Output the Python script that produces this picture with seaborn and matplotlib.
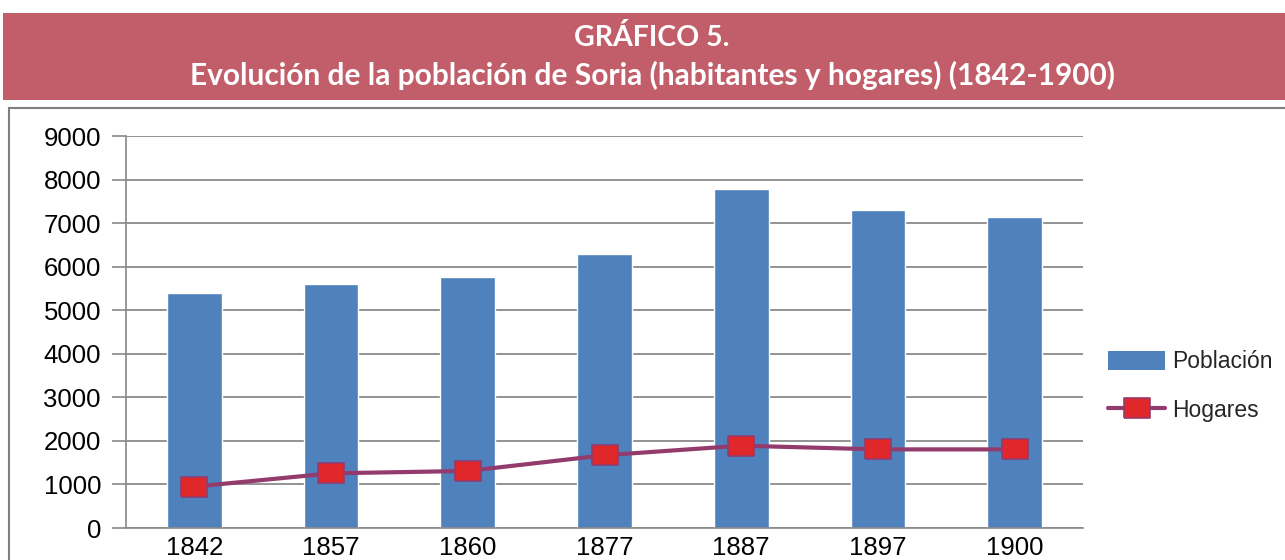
import matplotlib
matplotlib.use("Agg")
import matplotlib.pyplot as plt
import seaborn as sns
import pandas as pd
import numpy as np
from matplotlib.patches import Rectangle
from matplotlib.lines import Line2D
from matplotlib.patches import Patch

years = ["1842", "1857", "1860", "1877", "1887", "1897", "1900"]
poblacion = [5400, 5600, 5760, 6290, 7780, 7300, 7140]
hogares = [950, 1255, 1310, 1670, 1890, 1805, 1805]
yticks = [0, 1000, 2000, 3000, 4000, 5000, 6000, 7000, 8000, 9000]
title_line1 = "GRÁFICO 5."
title_line2 = "Evolución de la población de Soria (habitantes y hogares) (1842-1900)"

sns.set_theme(style="white")
plt.rcParams['font.family'] = ['Liberation Sans', 'DejaVu Sans']

df = pd.DataFrame({"year": years, "Población": poblacion, "Hogares": hogares})

W, H = 1285, 560
fig = plt.figure(figsize=(W / 100, H / 100), dpi=100)

# title band
fig.patches.append(Rectangle((3 / W, 1 - 100 / H), (W - 3) / W, 87 / H,
                             transform=fig.transFigure, facecolor="#C25E6A",
                             edgecolor="none", zorder=0))
# chart border
fig.patches.append(Rectangle((9 / W, -0.1), 1.2, (1 - 108 / H) + 0.1,
                             transform=fig.transFigure, facecolor="none",
                             edgecolor="#7f7f7f", linewidth=1.5, zorder=0))

fig.text(652 / W, 1 - 38 / H, title_line1, ha="center", va="center",
         color="white", fontsize=20.5, fontweight="bold", family=["Lato", "DejaVu Sans"])
fig.text(652 / W, 1 - 75 / H, title_line2, ha="center", va="center",
         color="white", fontsize=21.5, fontweight="bold", family=["Lato", "DejaVu Sans"])

ax = fig.add_axes([126 / W, 1 - 528 / H, (1083 - 126) / W, (528 - 136) / H])

sns.barplot(data=df, x="year", y="Población", color="#4F81BD", width=0.40,
            saturation=1, ax=ax, zorder=2)
marker = [(-1.35, -1), (1.35, -1), (1.35, 1), (-1.35, 1), (-1.35, -1)]
x = np.arange(len(years))
sns.lineplot(x=x, y=hogares, ax=ax, color="#943B6E", linewidth=3,
             marker=marker, markersize=19, markerfacecolor="#E0282A",
             markeredgecolor="#943B6E", markeredgewidth=1.2, zorder=3)

ax.set_xlim(-0.5, len(years) - 0.5)
ax.set_ylim(0, 9000)
ax.set_yticks(yticks)
ax.set_yticklabels([str(v) for v in yticks], fontsize=18.5)
ax.set_xticks(x)
ax.set_xticklabels(years, fontsize=18.5)
ax.set_xticks(np.arange(-0.5, len(years)), minor=True)
ax.tick_params(axis="x", which="major", length=0, pad=6, colors="#000000")
ax.tick_params(axis="x", which="minor", length=8, width=1.2, color="#888888", direction="out")
ax.tick_params(axis="y", length=10, width=1.2, color="#888888", pad=8, left=True, labelcolor="#000000")
ax.grid(axis="y", color="#8a8a8a", linewidth=1.3, zorder=0)
ax.set_axisbelow(True)
for s in ["top", "right"]:
    ax.spines[s].set_visible(False)
ax.spines["left"].set_color("#888888")
ax.spines["left"].set_linewidth(1.2)
ax.spines["bottom"].set_color("#888888")
ax.spines["bottom"].set_linewidth(1.2)
ax.set_xlabel("")
ax.set_ylabel("")
for lbl in ax.get_xticklabels() + ax.get_yticklabels():
    lbl.set_color("black")

handles = [Patch(facecolor="#4F81BD", edgecolor="none", label="Población"),
           Line2D([0], [0], color="#943B6E", linewidth=3, marker=marker,
                  markersize=19, markerfacecolor="#E0282A",
                  markeredgecolor="#943B6E", markeredgewidth=1.2, label="Hogares")]
fig.legend(handles=handles, loc="center left",
           bbox_to_anchor=(1108 / W, 1 - 386 / H), frameon=False,
           fontsize=16.5, handlelength=2.5, handleheight=0.9,
           labelspacing=1.1, handletextpad=0.3, borderaxespad=0, borderpad=0)

fig.savefig("out.png", dpi=100)
